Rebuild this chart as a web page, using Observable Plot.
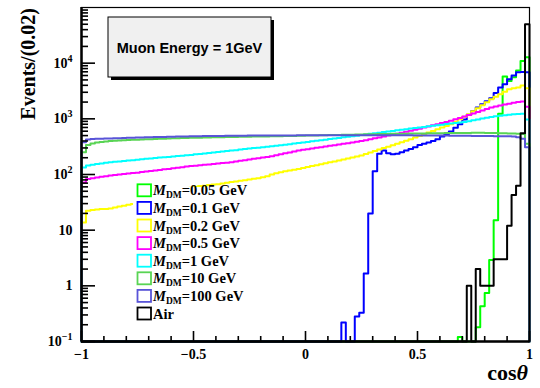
<!DOCTYPE html>
<html><head><meta charset="utf-8">
<script src="https://cdn.jsdelivr.net/npm/d3@7"></script>
<script src="https://cdn.jsdelivr.net/npm/@observablehq/plot@0.6"></script>
<style>
html,body{margin:0;padding:0;background:#fff;}
#chart{width:540px;height:388px;}
</style></head><body><div id="chart"></div>
<script>
// ---------- data (events per 0.02 bin of cos(theta), 100 bins from -1 to 1) ----------
const binWidth = 0.02;
const xMin = -1, xMax = 1;
const yMin = 0.1, yMax = 1e5;
const titleText = "Muon Energy = 1GeV";
const seriesLabels = ["0.05 GeV","0.1 GeV","0.2 GeV","0.5 GeV","1 GeV","10 GeV","100 GeV","Air"];
const seriesColors = ["#00ff00","#0000ff","#ffff00","#ff00ff","#00ffff","#59d454","#5954d8","#000000"];

const m005 = [
0,0,0,0,0,0,0,0,0,0, 0,0,0,0,0,0,0,0,0,0, 0,0,0,0,0,0,0,0,0,0, 0,0,0,0,0,0,0,0,0,0,
0,0,0,0,0,0,0,0,0,0, 0,0,0,0,0,0,0,0,0,0, 0,0,0,0,0,0,0,0,0,0, 0,0,0,0,0,0,0,0,0,0,
0,0,0,0,0.12,0,0,0,0.18,0.43,
0.74,2.9,15,1230,5760,4760,5600,7400,10900,12800];

const m01 = [
0,0,0,0,0,0,0,0,0,0, 0,0,0,0,0,0,0,0,0,0, 0,0,0,0,0,0,0,0,0,0, 0,0,0,0,0,0,0,0,0,0,
0,0,0,0,0,0,0,0,0,0,
0,0,0,0,0,0,0,0,0.22,0,
0,0.28,0.33,1.67,20,114,235,270,240,230,
235,251,270,288,310,340,355,374,400,430,
480,530,590,690,800,970,1180,1380,1590,1820,
2080,2350,2900,3650,4200,5150,5990,6900,6950,6900];

const m02 = [
13.8,22.4,23,23.5,24,24,24.5,25.5,26.5,27.5,
28.5,29.5,30.5,31.5,32.6,34.6,36.8,39,41.5,44,
46.7,49.6,52.7,56,58,60,62,63,65,66,
67,69,71,73,75,77,79,81,84,86,
89,93,100,105,110,114,118,122,126,131,
136,142,147,153,159,166,172,179,186,194,
202,210,219,233,248,263,280,298,316,336,
358,380,404,430,461,494,529,567,607,650,
697,746,800,887,984,1091,1210,1370,1551,1755,
1987,2250,2495,2766,3067,3400,3550,3660,3980,3550];

const m05 = [
72,83,86,88,91,93,96,98,100,102,
104,106,108,111,113,115,118,121,124,126,
129,132,135,139,142,144,147,149,152,155,
158,161,163,166,171,176,181,186,191,196,
201,206,212,221,230,240,249,259,269,277,
285,293,301,310,318,327,337,346,356,366,
377,387,398,414,430,447,464,483,502,521,
542,563,585,608,637,666,698,730,765,801,
838,878,920,978,1040,1105,1175,1249,1328,1412,
1501,1597,1660,1730,1800,1870,1940,2000,2050,1650];

const m1 = [
134,145,150,154,158,162,166,169,172,175,
178,181,184,187,191,194,197,201,204,207,
211,214,218,221,225,230,234,239,244,249,
254,259,264,269,274,280,286,292,298,303,
309,315,321,328,335,343,351,359,367,376,
385,394,403,413,423,433,443,454,465,476,
487,499,511,524,537,550,564,578,592,607,
622,637,653,669,685,700,717,733,750,768,
785,804,822,841,861,881,902,940,975,1010,
1045,1080,1110,1140,1165,1190,1210,1225,1235,970];

const m10 = [
250,340,360,375,385,392,398,403,408,412,
416,420,423,426,429,432,435,438,441,444,
446,449,451,453,455,457,459,461,463,465,
467,469,470,472,474,475,477,478,480,481,
483,484,486,487,489,490,492,494,496,498,
500,502,504,506,508,510,512,514,516,518,
520,522,524,526,528,530,532,534,536,538,
540,541,542,544,545,546,548,549,550,552,
553,554,555,556,557,558,559,560,560,560,
558,556,554,552,550,548,545,542,535,355];

const m100 = [
380,425,435,440,441,443,445,447,449,452,
455,457,460,462,465,467,470,472,474,476,
478,480,482,484,486,488,489,490,491,492,
493,494,495,496,497,498,499,500,500,501,
501,502,502,503,503,504,504,504,505,505,
505,505,505,505,505,505,505,505,505,505,
505,505,505,505,505,505,505,505,505,505,
505,505,505,505,504,504,503,503,502,502,
501,500,499,498,497,496,495,494,493,492,
491,490,489,488,487,485,480,465,440,310];

const air = [
0,0,0,0,0,0,0,0,0,0, 0,0,0,0,0,0,0,0,0,0, 0,0,0,0,0,0,0,0,0,0, 0,0,0,0,0,0,0,0,0,0,
0,0,0,0,0,0,0,0,0,0, 0,0,0,0,0,0,0,0,0,0, 0,0,0,0,0,0,0,0,0,0, 0,0,0,0,0,0,0,0,0,0,
0,0,0,0,0,0,1,0,2,1,
1,1,3,3,3,12,43,63,550,50000];

const xMajor = [-1,-0.5,0,0.5,1];
const xTickLabels = ["\u22121","\u22120.5","0","0.5","1"];
const xMinor = [-0.9,-0.8,-0.7,-0.6,-0.4,-0.3,-0.2,-0.1,0.1,0.2,0.3,0.4,0.6,0.7,0.8,0.9];
const yMajor = [0.1,1,10,100,1000,10000];
const yTickLabels = ["10^\u22121","1","10","10^2","10^3","10^4"];
const yMinorMult = [2,3,4,5,6,7,8,9];
const yTitle = "Events/(0.02)";

// ---------- build ----------
const allSeries = [m005, m01, m02, m05, m1, m10, m100, air];
const lineData = allSeries.map(vals => {
  const pts = [{x: xMin, y: yMin}];
  vals.forEach((v, i) => {
    const y = Math.max(v, yMin);
    pts.push({x: xMin + i * binWidth, y}, {x: xMin + (i + 1) * binWidth, y});
  });
  pts.push({x: xMax, y: yMin});
  return pts;
});
const yMinor = [];
yMajor.forEach(d => yMinorMult.forEach(m => yMinor.push(d * m)));

const frameW = 540 - 81 - 11, frameH = 388 - 7 - 47;
const serif = "Liberation Serif, Times New Roman, serif";

const svg = Plot.plot({
  width: 540, height: 388,
  marginLeft: 81, marginRight: 11, marginTop: 7, marginBottom: 47,
  x: {domain: [xMin, xMax], axis: null},
  y: {type: "log", domain: [yMin, yMax], axis: null},
  style: {background: "white", overflow: "visible"},
  marks: [
    ...lineData.map((pts, s) => Plot.line(pts, {x: "x", y: "y", stroke: seriesColors[s], strokeWidth: 2})),
    Plot.tickX(xMajor, {x: d => d, stroke: "black", strokeWidth: 1.6, insetTop: frameH - 10}),
    Plot.tickX(xMinor, {x: d => d, stroke: "black", strokeWidth: 1.6, insetTop: frameH - 5}),
    Plot.tickY(yMajor, {y: d => d, stroke: "black", strokeWidth: 1.6, insetRight: frameW - 14}),
    Plot.tickY(yMinor, {y: d => d, stroke: "black", strokeWidth: 1.6, insetRight: frameW - 7}),
    Plot.frame({stroke: "black", strokeWidth: 1.2}),
    Plot.ruleX([xMin], {stroke: "black", strokeWidth: 2.5}),
    Plot.ruleY([yMin], {stroke: "black", strokeWidth: 2.5}),
    Plot.text(xMajor, {x: d => d, y: yMin, text: (d, i) => xTickLabels[i], dy: 13,
      fontSize: 14, fontWeight: "bold", fontFamily: serif, fill: "black"}),
    Plot.text(yMajor, {x: xMin, y: d => d, text: (d, i) => yTickLabels[i], dx: -9, textAnchor: "end",
      fontSize: 14, fontWeight: "bold", fontFamily: serif, fill: "black"})
  ]
});

const root = d3.select(svg);

// superscripts on y tick labels
root.selectAll("text").each(function() {
  const t = this.textContent;
  if (t.includes("^")) {
    const [base, exp] = t.split("^");
    const sel = d3.select(this);
    sel.text(base);
    sel.append("tspan").attr("font-size", 10).attr("dy", -6).text(exp);
  }
});

// title box
const tb = root.append("g");
tb.append("rect").attr("x", 111).attr("y", 20).attr("width", 163).attr("height", 60).attr("fill", "black");
tb.append("rect").attr("x", 108).attr("y", 17).attr("width", 163).attr("height", 60)
  .attr("fill", "#f0f0f0").attr("stroke", "black").attr("stroke-width", 1);
tb.append("text").attr("x", 189.5).attr("y", 53).attr("text-anchor", "middle")
  .attr("font-family", "Liberation Sans, Arial, sans-serif").attr("font-weight", "bold")
  .attr("font-size", 14.5).attr("fill", "black").text(titleText);

// legend
const lg = root.append("g");
lg.append("rect").attr("x", 133).attr("y", 187).attr("width", 120).attr("height", 135).attr("fill", "white");
seriesLabels.forEach((lab, i) => {
  const cy = 190.3 + i * 17.6;
  lg.append("rect").attr("x", 137.5).attr("y", cy - 6).attr("width", 13.5).attr("height", 12)
    .attr("fill", "white").attr("stroke", seriesColors[i]).attr("stroke-width", 1.8);
  const t = lg.append("text").attr("x", 153).attr("y", cy + 5).attr("text-anchor", "start")
    .attr("font-family", serif).attr("font-weight", "bold").attr("font-size", 14.5).attr("fill", "black");
  if (lab === "Air") t.text("Air");
  else {
    t.append("tspan").attr("font-style", "italic").text("M");
    t.append("tspan").attr("font-size", 9.5).attr("dy", 3).text("DM");
    t.append("tspan").attr("dy", -3).text("=" + lab);
  }
});

// axis titles
root.append("text").attr("transform", "translate(35,8) rotate(-90)").attr("text-anchor", "end")
  .attr("font-family", serif).attr("font-weight", "bold").attr("font-size", 20).attr("fill", "black").text(yTitle);
const xt = root.append("text").attr("x", 528).attr("y", 380).attr("text-anchor", "end")
  .attr("font-family", serif).attr("font-weight", "bold").attr("font-size", 22).attr("fill", "black");
xt.append("tspan").text("cos");
xt.append("tspan").attr("font-style", "italic").text("\u03b8");

document.getElementById("chart").appendChild(svg);
</script>
</body></html>
